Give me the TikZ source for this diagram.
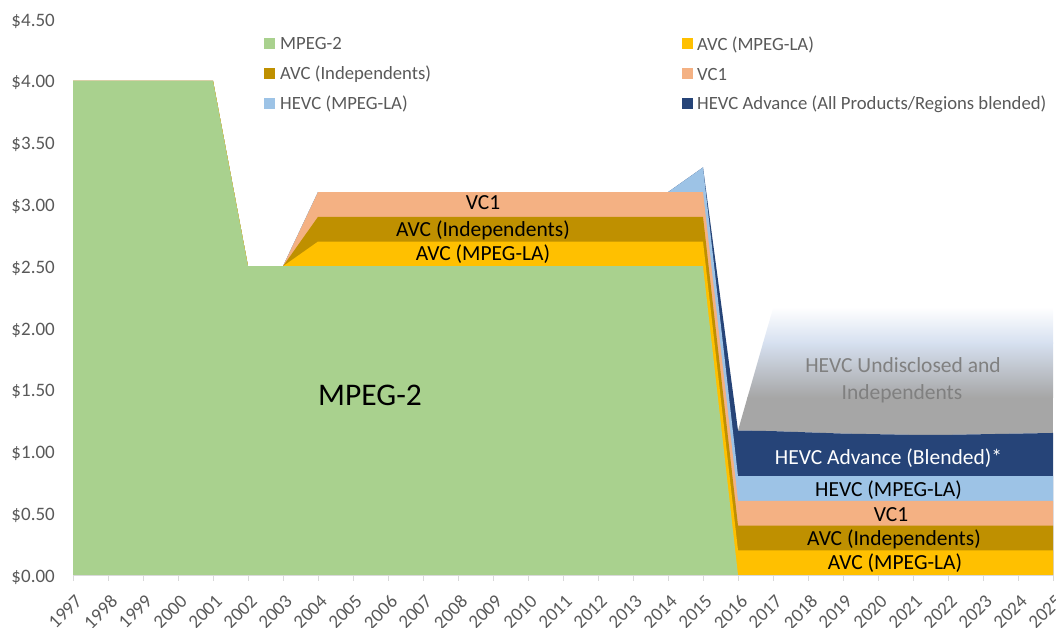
\documentclass[tikz,border=0pt]{standalone}
\usepackage{fontspec}
\setmainfont{Carlito}
\definecolor{mpegtwo}{HTML}{A9D18E}
\definecolor{avcla}{HTML}{FFC000}
\definecolor{avcind}{HTML}{BF9000}
\definecolor{vcone}{HTML}{F4B183}
\definecolor{hevcla}{HTML}{9DC3E6}
\definecolor{hevcadv}{HTML}{264478}
\definecolor{axisgray}{HTML}{D9D9D9}
\definecolor{txtgray}{HTML}{595959}
\definecolor{undgray}{HTML}{A6A6A6}
\definecolor{undblue}{HTML}{D6E0F0}
\definecolor{undtext}{HTML}{808080}
\begin{document}
\begin{tikzpicture}[x=1pt,y=1pt,
  axislbl/.style={inner sep=0pt,text=txtgray,font=\fontsize{19}{22}\selectfont},
  leglbl/.style={inner sep=0pt,text=txtgray,anchor=base west,font=\fontsize{18.7}{22}\selectfont},
  legsq/.style={inner sep=0pt,minimum size=11pt,anchor=south west},
  bandlbl/.style={inner sep=0pt,anchor=base,font=\fontsize{21.5}{25}\selectfont},
  biglbl/.style={inner sep=0pt,anchor=base,font=\fontsize{31.5}{36}\selectfont},
  undlbl/.style={inner sep=0pt,anchor=base,text=undtext,font=\fontsize{21.5}{25}\selectfont}]
\useasboundingbox (0,0) rectangle (1056,627);
\begin{scope}[x=35pt,y=123.5pt,shift={(73pt,52pt)}]
  % HEVC undisclosed gradient band
  \begin{scope}
    \clip (19,1.17) -- (20,2.16) -- (28,2.16) -- (28,1.15) -- (27,1.145) -- (26,1.14) -- (25,1.135) -- (24,1.135) -- (23,1.14) -- (22,1.145) -- (21,1.155) -- (20,1.165) -- cycle;
    \fill[undgray] (19,1.0) rectangle (28,1.44);
    \shade[top color=undblue,bottom color=undgray] (19,1.435) rectangle (28,1.88);
    \shade[top color=white,bottom color=undblue] (19,1.875) rectangle (28,2.17);
  \end{scope}
  % HEVC Advance
  \fill[hevcadv] (0,0) -- (0,4) -- (4,4) -- (5,2.5) -- (6,2.5) -- (7,3.1) -- (17,3.1) -- (18,3.3) -- (19,1.17) -- (20,1.165) -- (21,1.155) -- (22,1.145) -- (23,1.14) -- (24,1.135) -- (25,1.135) -- (26,1.14) -- (27,1.145) -- (28,1.15) -- (28,0) -- cycle;
  % HEVC MPEG-LA
  \fill[hevcla] (0,0) -- (0,4) -- (4,4) -- (5,2.5) -- (6,2.5) -- (7,3.1) -- (17,3.1) -- (18,3.3) -- (19,0.8) -- (28,0.8) -- (28,0) -- cycle;
  % VC1
  \fill[vcone] (0,0) -- (0,4) -- (4,4) -- (5,2.5) -- (6,2.5) -- (7,3.1) -- (18,3.1) -- (19,0.6) -- (28,0.6) -- (28,0) -- cycle;
  % AVC Independents
  \fill[avcind] (0,0) -- (0,4) -- (4,4) -- (5,2.5) -- (6,2.5) -- (7,2.9) -- (18,2.9) -- (19,0.4) -- (28,0.4) -- (28,0) -- cycle;
  % AVC MPEG-LA
  \fill[avcla] (0,0) -- (0,4) -- (4,4) -- (5,2.5) -- (6,2.5) -- (7,2.7) -- (18,2.7) -- (19,0.2) -- (28,0.2) -- (28,0) -- cycle;
  % MPEG-2
  \fill[mpegtwo] (0,0) -- (0,4) -- (4,4) -- (5,2.5) -- (18,2.5) -- (19,0) -- cycle;
\end{scope}
% axis
\draw[axisgray,line width=1pt] (73,52) -- (1053,52);
\foreach \i in {0,...,28}{
  \draw[axisgray,line width=1pt] (73+35*\i,52) -- ++(0,-6);
  \pgfmathtruncatemacro{\yr}{1997+\i}
  \node[axislbl,rotate=45,anchor=north east] (yr\i) at (73+35*\i+1.5,33.5) {\yr};
}
% y labels
\foreach \v/\t [count=\k] in {0/0.00,0.5/0.50,1/1.00,1.5/1.50,2/2.00,2.5/2.50,3/3.00,3.5/3.50,4/4.00,4.5/4.50}{
  \node[axislbl,anchor=base east] (yl\k) at (55,45+123.5*\v) {\$\t};
}
% legend
\node[legsq,fill=mpegtwo] (sq1) at (264,578) {};
\node[leglbl] (lg1) at (280,577) {MPEG-2};
\node[legsq,fill=avcind] (sq2) at (264,548) {};
\node[leglbl] (lg2) at (280,547) {AVC (Independents)};
\node[legsq,fill=hevcla] (sq3) at (264,518) {};
\node[leglbl] (lg3) at (280,517) {HEVC (MPEG-LA)};
\node[legsq,fill=avcla] (sq4) at (682,577.5) {};
\node[leglbl] (lg4) at (697,576.5) {AVC (MPEG-LA)};
\node[legsq,fill=vcone] (sq5) at (682,547.5) {};
\node[leglbl] (lg5) at (697,546.5) {VC1};
\node[legsq,fill=hevcadv] (sq6) at (682,518) {};
\node[leglbl] (lg6) at (697,517) {HEVC Advance (All Products/Regions blended)};
% band labels
\node[biglbl] (mp) at (370,222) {MPEG-2};
\node[bandlbl] (l1) at (483,417) {VC1};
\node[bandlbl] (l2) at (483,390.3) {AVC (Independents)};
\node[bandlbl] (l3) at (483,366) {AVC (MPEG-LA)};
\node[undlbl] (u1) at (903,254.7) {HEVC Undisclosed and};
\node[undlbl] (u2) at (902,227.7) {Independents};
\node[bandlbl,text=white] (r1) at (888.5,162.7) {HEVC Advance (Blended)*};
\node[bandlbl] (r2) at (888.5,130.3) {HEVC (MPEG-LA)};
\node[bandlbl] (r3) at (891,105.3) {VC1};
\node[bandlbl] (r4) at (894,82) {AVC (Independents)};
\node[bandlbl] (r5) at (895,57.7) {AVC (MPEG-LA)};
\end{tikzpicture}
\end{document}
